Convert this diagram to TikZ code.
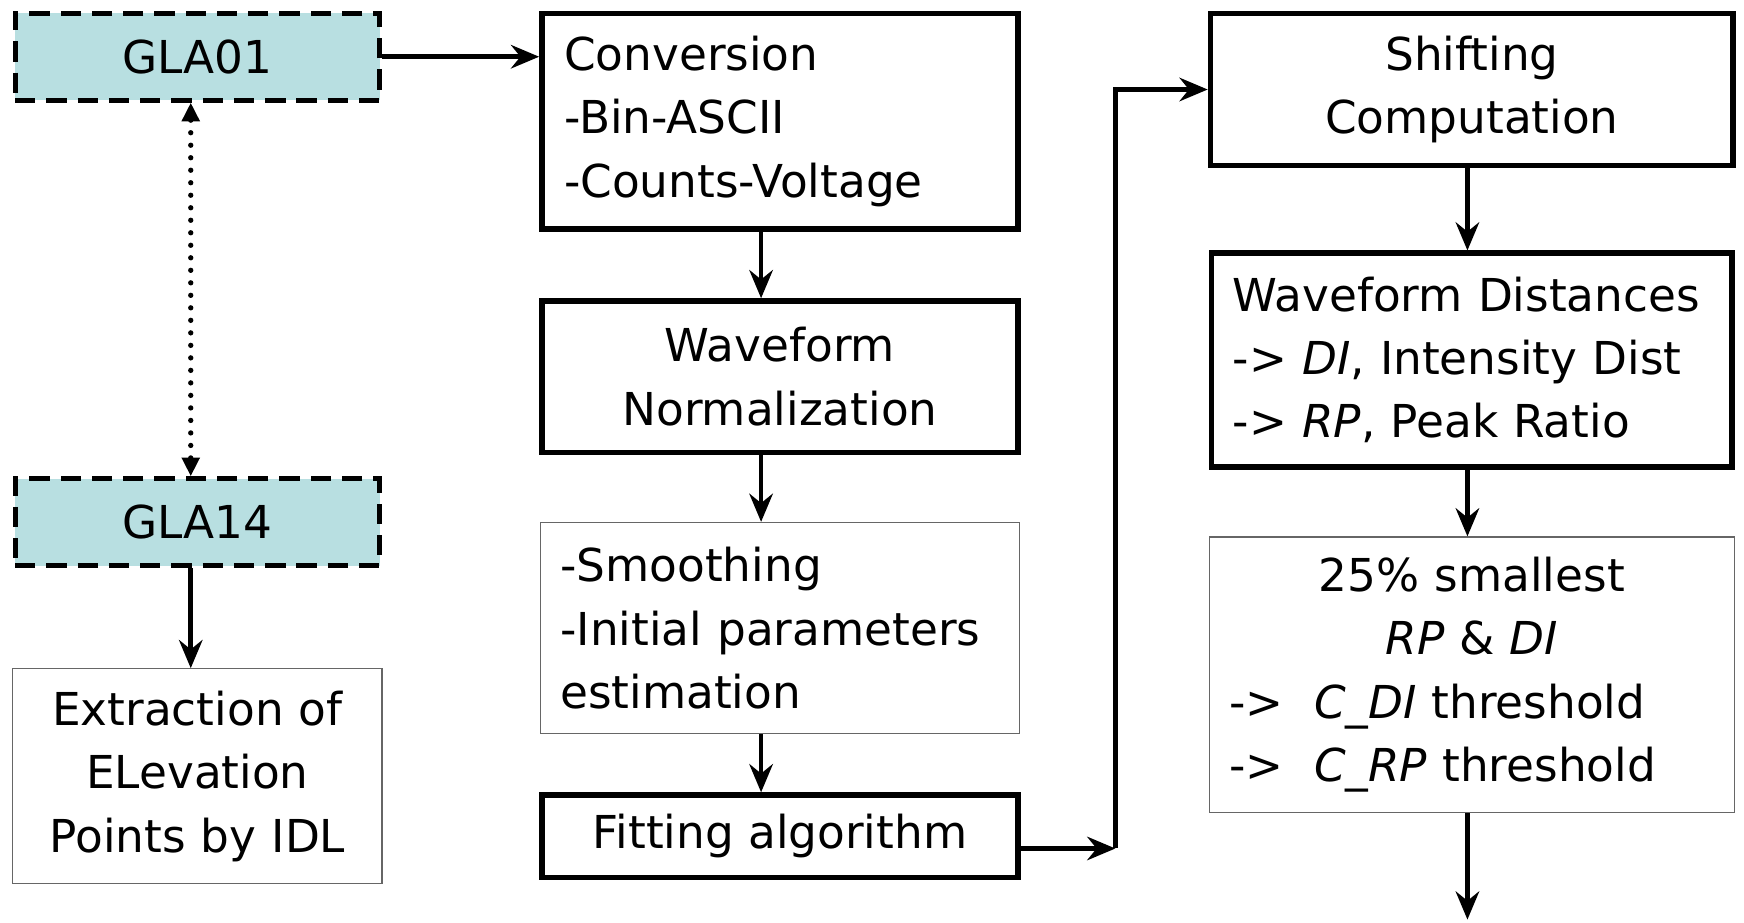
\documentclass[tikz,border=0pt]{standalone}
\usepackage{fontspec}
\setmainfont{DejaVu Sans}
\usetikzlibrary{arrows.meta,positioning}

\definecolor{glablue}{RGB}{184,223,225}

\begin{document}
\begin{tikzpicture}[>={Stealth[length=18pt,width=15pt,inset=6pt]},
		every node/.style={font=\fontsize{29}{40.5}\selectfont}]
		\tikzstyle{glabox}=[draw,line width=3.2pt,dash pattern=on 13pt off 7pt,fill=glablue,minimum width=8.2cm,minimum height=1.95cm]
		\tikzstyle{thickbox}=[draw,line width=3.6pt,inner sep=0.5cm]
		\tikzstyle{thinbox}=[draw=black!60,line width=0.8pt,inner sep=0.5cm]
		\tikzstyle{flow}=[->,line width=3pt]
		\useasboundingbox (0,0) rectangle (39.2,-20.725);
		% data sources
		\node[glabox] (gla01) at (4.4375,-1.275) {GLA01};
		\node[glabox] (gla14) [below=8.4cm of gla01] {GLA14};
		\node[thinbox, minimum width=8.275cm, minimum height=4.7cm, text width=7.3cm, align=center] (idl) [below=2.25cm of gla14] {Extraction of\\ELevation\\Points by IDL};
		% waveform processing
		\node[thickbox, minimum width=10.7cm, minimum height=4.8cm, text width=9.7cm, align=left] (conv) [right=3.525cm of gla01.north east, anchor=north west] {Conversion\\-Bin-ASCII\\-Counts-Voltage};
		\node[thickbox, minimum width=10.7cm, minimum height=3.4cm, text width=9.7cm, align=center] (norm) [below=1.5cm of conv] {Waveform\\Normalization};
		\node[thinbox, minimum width=10.775cm, minimum height=4.75cm, text width=9.875cm, inner sep=0.45cm, align=left] (smooth) [below=1.5cm of norm] {-Smoothing\\-Initial parameters\\estimation};
		\node[thickbox, minimum width=10.7cm, minimum height=1.85cm, inner sep=0.2cm] (fit) [below=1.3cm of smooth] {Fitting algorithm};
		% change detection
		\node[thickbox, minimum width=11.7cm, minimum height=3.4cm, text width=10.75cm, align=center] (shift) [right=4.2cm of conv.north east, anchor=north west] {Shifting\\Computation};
		\node[thickbox, minimum width=11.7cm, minimum height=4.8cm, text width=10.75cm, inner sep=0.45cm, align=left] (dist) [below=1.85cm of shift] {Waveform Distances\\-> \textit{DI}, Intensity Dist\\-> \textit{RP}, Peak Ratio};
		\node[thinbox, minimum width=11.8cm, minimum height=6.05cm, text width=10.9cm, inner sep=0.45cm, align=left] (small) [below=1.5cm of dist] {\makebox[\hsize]{25\% smallest}\\\makebox[\hsize]{\textit{RP} \& \textit{DI}}\\->~ \textit{C\_DI} threshold\\->~ \textit{C\_RP} threshold};
		\coordinate[below right=0.275cm and 2.125cm of fit.east] (turn);
		\coordinate[below=2.4cm of small] (out);

		\draw[<->, line width=3.4pt, line cap=round, dash pattern=on 0pt off 8pt, >={Triangle[length=12pt,width=11pt]}]
			([xshift=-0.15cm]gla01.south) -- ([xshift=-0.15cm]gla14.north);
		\path[flow]
			([xshift=-0.15cm]gla14.south) edge ([xshift=-0.15cm]idl.north)
			(gla01.east) edge (gla01.east -| conv.west)
			([xshift=-0.425cm]conv.south) edge ([xshift=-0.425cm]norm.north)
			([xshift=-0.425cm]norm.south) edge ([xshift=-0.425cm]smooth.north)
			([xshift=-0.425cm]smooth.south) edge ([xshift=-0.425cm]fit.north)
			(turn -| fit.east) edge (turn)
			([xshift=-0.1cm]shift.south) edge ([xshift=-0.1cm]dist.north)
			([xshift=-0.1cm]dist.south) edge ([xshift=-0.1cm]small.north)
			([xshift=-0.1cm]small.south) edge ([xshift=-0.1cm]out);
		\draw[flow] (turn) |- (shift.west);
	\end{tikzpicture}
\end{document}
